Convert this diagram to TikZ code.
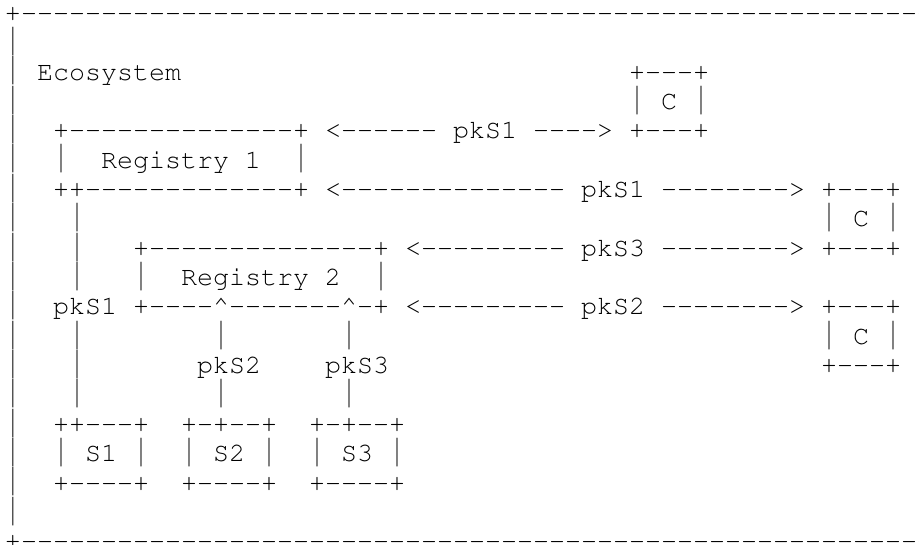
\documentclass[tikz,border=0pt]{standalone}
\usepackage[T1,TU]{fontenc}
\usepackage{fontspec}
\usepackage{graphicx}
% Courier (URW Nimbus Mono) for the character grid: 16pt advance, 29.36pt rows
\newcommand\gridfont{\fontencoding{T1}\fontfamily{pcr}\fontseries{m}\fontshape{n}\fontsize{26.67pt}{29.36pt}\selectfont}
% OpenType mono font for the bar, whose box follows the glyph outline
\newfontfamily\barfont{Liberation Mono}
\definecolor{barcol}{gray}{0.28}
\tikzset{ch/.style={anchor=base west, inner sep=0pt, outer sep=0pt, font=\gridfont, text=black}}
% \glyphs{name}{column}{row}{text}
\newcommand\glyphs[4]{\node[ch] (#1) at ({5+16*#2},{-21.3-29.36*#3}) {#4};}
% a run of n hyphens, kept apart so the font does not join them into dashes
\newcommand\dd[1]{\foreach \k in {1,...,#1}{-\kern0pt}}
\newcommand\caret{\textasciicircum}
% the bar character stretched to fill the whole line height of its cell, kept slim
\newcommand\vb{\makebox[16pt]{\raisebox{-5.2pt}{\resizebox{10pt}{28.6pt}{\raisebox{\depth}{\barfont\fontsize{26.67pt}{29.36pt}\selectfont\textcolor{barcol}{|}}}}}}
\begin{document}
\begin{tikzpicture}[x=1pt,y=1pt]
\useasboundingbox (0,0) rectangle (919,-544);
\clip (0,0) rectangle (919,-544);

% outer frame
\glyphs{frameT}{0}{0}{+\dd{57}}
\foreach \r in {1,...,17} {\glyphs{edge\r}{0}{\r}{\vb}}
\glyphs{frameB}{0}{18}{+\dd{57}}

\glyphs{title}{2}{2}{Ecosystem}

% first consumer
\glyphs{cAtop}{39}{2}{+\dd{3}+}
\glyphs{cAmid}{39}{3}{\vb~C~\vb}
\glyphs{cAbot}{39}{4}{+\dd{3}+}

% Registry 1
\glyphs{regAtop}{3}{4}{+\dd{14}+}
\glyphs{regAmid}{3}{5}{\vb~~Registry~1~~\vb}
\glyphs{regAbot}{3}{6}{++\dd{13}+}

\glyphs{arrAl}{20}{4}{<\dd{6}}
\glyphs{arrAlab}{28}{4}{pkS1}
\glyphs{arrAr}{33}{4}{\dd{4}>}

\glyphs{arrBl}{20}{6}{<\dd{14}}
\glyphs{arrBlab}{36}{6}{pkS1}
\glyphs{arrBr}{41}{6}{\dd{8}>}

% second consumer
\glyphs{cBtop}{51}{6}{+\dd{3}+}
\glyphs{cBmid}{51}{7}{\vb~C~\vb}
\glyphs{cBbot}{51}{8}{+\dd{3}+}

% Registry 2
\glyphs{regBtop}{8}{8}{+\dd{14}+}
\glyphs{regBmid}{8}{9}{\vb~~Registry~2~~\vb}
\glyphs{regBbot}{8}{10}{+\dd{4}\caret\dd{7}\caret\dd{1}+}

\glyphs{arrCl}{25}{8}{<\dd{9}}
\glyphs{arrClab}{36}{8}{pkS3}
\glyphs{arrCr}{41}{8}{\dd{8}>}

\glyphs{arrDl}{25}{10}{<\dd{9}}
\glyphs{arrDlab}{36}{10}{pkS2}
\glyphs{arrDr}{41}{10}{\dd{8}>}

% third consumer
\glyphs{cCtop}{51}{10}{+\dd{3}+}
\glyphs{cCmid}{51}{11}{\vb~C~\vb}
\glyphs{cCbot}{51}{12}{+\dd{3}+}

% pkS1 link from S1 up to Registry 1
\foreach \r in {7,8,9,11,12,13} {\glyphs{linkA\r}{4}{\r}{\vb}}
\glyphs{linkAlab}{3}{10}{pkS1}

% pkS2 and pkS3 links up to Registry 2
\glyphs{linkBa}{13}{11}{\vb}
\glyphs{linkBlab}{12}{12}{pkS2}
\glyphs{linkBb}{13}{13}{\vb}
\glyphs{linkCa}{21}{11}{\vb}
\glyphs{linkClab}{20}{12}{pkS3}
\glyphs{linkCb}{21}{13}{\vb}

% signers
\glyphs{sAtop}{3}{14}{++\dd{3}+}
\glyphs{sAmid}{3}{15}{\vb~S1~\vb}
\glyphs{sAbot}{3}{16}{+\dd{4}+}
\glyphs{sBtop}{11}{14}{+\dd{1}+\dd{2}+}
\glyphs{sBmid}{11}{15}{\vb~S2~\vb}
\glyphs{sBbot}{11}{16}{+\dd{4}+}
\glyphs{sCtop}{19}{14}{+\dd{1}+\dd{2}+}
\glyphs{sCmid}{19}{15}{\vb~S3~\vb}
\glyphs{sCbot}{19}{16}{+\dd{4}+}
\end{tikzpicture}
\end{document}
